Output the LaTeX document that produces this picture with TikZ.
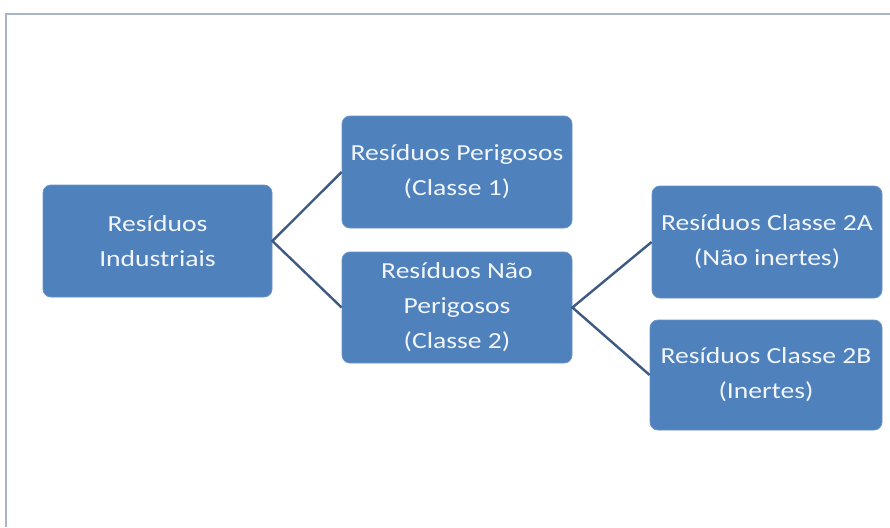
\documentclass[tikz,border=0pt]{standalone}
\usepackage{fontspec}
\setmainfont{Carlito}
\newfontfamily\boxfont[FakeStretch=1.2]{Carlito}
\definecolor{boxblue}{HTML}{4F81BD}
\definecolor{linkcol}{HTML}{3E5A82}
\definecolor{framecol}{HTML}{A9B4C8}
\definecolor{txtcol}{HTML}{F2F6FB}
\begin{document}
\begin{tikzpicture}[x=1pt,y=1pt,
  cbox/.style={draw=boxblue!85!white, line width=0.8pt, fill=boxblue, rounded corners=8pt,
    minimum width=230pt, minimum height=111pt, align=center, text=txtcol,
    font=\boxfont\fontsize{23}{35}\selectfont, inner sep=2pt},
  link/.style={draw=linkcol, line width=2.4pt}]
\useasboundingbox (0,0) rectangle (890,-527);
\fill[white] (0,0) rectangle (890,-527);
\draw[framecol, line width=1.6pt] (6,-527) -- (6,-14) -- (890,-14);
\node[cbox, minimum width=229pt, minimum height=112pt] (ind) at (157.5,-241) {Resíduos\\Industriais};
\node[cbox, minimum height=112pt] (per) at (457,-172) {Resíduos Perigosos\\(Classe 1)};
\node[cbox] (nper) at (457,-307.5) {Resíduos Não\\Perigosos\\(Classe 2)};
\node[cbox, minimum height=112pt] (c2a) at (767,-242) {Resíduos Classe 2A\\(Não inertes)};
\node[cbox, minimum width=232pt, minimum height=110pt] (c2b) at (766,-375) {Resíduos Classe 2B\\(Inertes)};
\draw[link] (per.west) -- (ind.east) -- (nper.west);
\draw[link] (c2a.west) -- (nper.east) -- (c2b.west);
\end{tikzpicture}
\end{document}
